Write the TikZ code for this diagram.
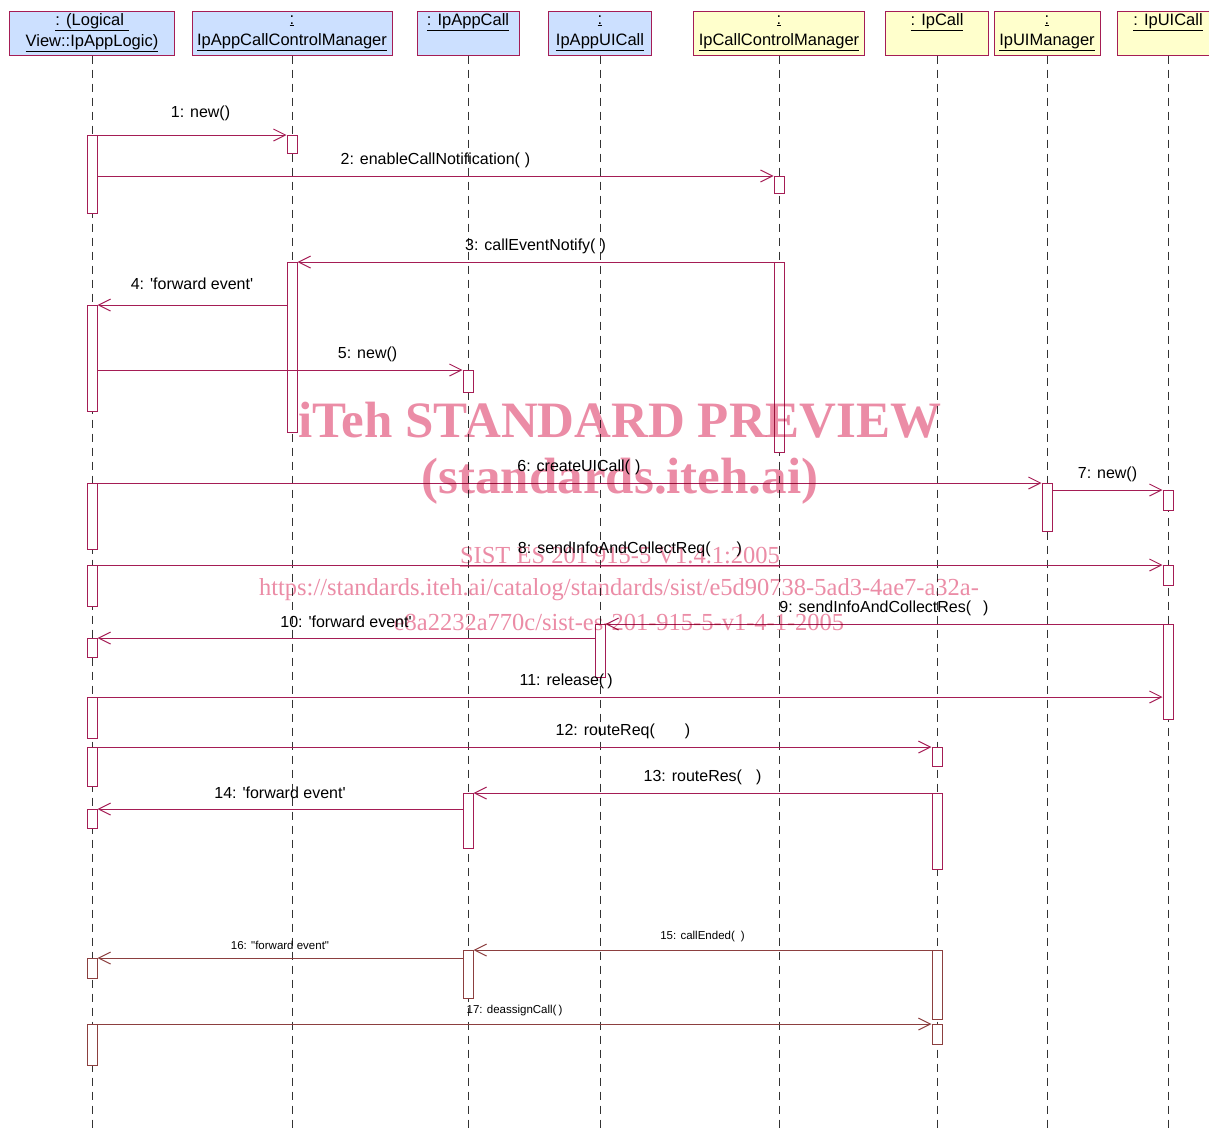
\documentclass[tikz,border=0pt]{standalone}
\usepackage{fontspec}
\setmainfont{Liberation Sans}
\newfontfamily\wmserif{Liberation Serif}
\usetikzlibrary{arrows.meta}
\definecolor{SeqRed}{HTML}{A51D55}
\definecolor{SeqBrown}{HTML}{8C3F3F}
\definecolor{HeadBlue}{HTML}{CCE0FF}
\definecolor{HeadYellow}{HTML}{FFFFCC}
\definecolor{WmPink}{HTML}{EB8CA6}

\begin{document}
\begin{tikzpicture}[x=1pt,y=-1pt,
  head/.style={draw=SeqRed,line width=1pt,minimum height=44pt,inner sep=0pt,align=center,
    font=\fontsize{16.5}{21}\selectfont},
  appbox/.style={head,fill=HeadBlue},
  netbox/.style={head,fill=HeadYellow},
  life/.style={black!80,line width=.9pt,dash pattern=on 8pt off 6pt},
  act/.style={draw=SeqRed,fill=white,line width=1pt,minimum width=10pt,inner sep=0pt,anchor=north},
  actb/.style={act,draw=SeqBrown},
  msg/.style={draw=SeqRed,line width=1pt,-{Straight Barb[length=12pt,width=12pt]}},
  msgb/.style={msg,draw=SeqBrown},
  lbl/.style={font=\fontsize{16}{18}\selectfont,inner sep=0pt,yshift=16pt},
  lbls/.style={font=\fontsize{11.5}{13}\selectfont,inner sep=0pt,yshift=13pt},
  wmbig/.style={text=WmPink,font=\wmserif\bfseries\fontsize{51}{56}\selectfont,inner sep=0pt},
  wmsmall/.style={text=WmPink,font=\wmserif\fontsize{24.5}{26}\selectfont,inner sep=0pt}]
\useasboundingbox (0,0) rectangle (1209,1133);
\coordinate (bot) at (0,1133);

% object boxes
\node[appbox,minimum width=165pt] (hLogic) at (92,33) {\underline{: (Logical }\\\underline{View::IpAppLogic)}};
\node[appbox,minimum width=200pt] (hAppMgr) at (292,33) {\underline{:}\\\underline{IpAppCallControlManager}};
\node[appbox,minimum width=102pt] (hAppCall) at (468,33) {\underline{: IpAppCall}\\\strut};
\node[appbox,minimum width=103pt] (hAppUI) at (600,33) {\underline{:}\\\underline{IpAppUICall}};
\node[netbox,minimum width=171pt] (hCallMgr) at (779,33) {\underline{:}\\\underline{IpCallControlManager}};
\node[netbox,minimum width=103pt] (hCall) at (937,33) {\underline{: IpCall}\\\strut};
\node[netbox,minimum width=106pt] (hUIMgr) at (1047,33) {\underline{:}\\\underline{IpUIManager}};
\node[netbox,minimum width=102pt] (hUICall) at (1168,33) {\underline{: IpUICall}\\\strut};

\foreach \h in {hLogic,hAppMgr,hAppCall,hAppUI,hCallMgr,hCall,hUIMgr,hUICall}
  \draw[life] (\h.south) -- (\h.south |- bot);

% activations
\foreach \n/\x/\t/\l in {p1a/92/135/78,p1b/92/305/106,p1c/92/483/66,p1d/92/565/41,
    p1e/92/638/19,p1f/92/697/41,p1g/92/747/39,p1h/92/809/19,
    p2a/292/135/18,p2b/292/262/170,p3a/468/370/22,p3b/468/793/55,
    p4a/600/624/53,p5a/779/176/17,p5b/779/262/190,
    p6a/937/747/19,p6b/937/793/76,p7a/1047/483/48,
    p8a/1168/490/20,p8b/1168/565/20,p8c/1168/624/95}
  \node[act,minimum height=\l pt] (\n) at (\x,\t) {};
\foreach \n/\x/\t/\l in {p1i/92/958/20,p1j/92/1024/41,p3c/468/950/48,
    p6c/937/950/69,p6d/937/1024/20}
  \node[actb,minimum height=\l pt] (\n) at (\x,\t) {};

% messages
\draw[msg] (p1a.east |- p2a.north) -- node[lbl,pos=.545,yshift=6pt] {1: new()} (p2a.north west);
\draw[msg] (p1a.east |- p5a.north) -- node[lbl] {2: enableCallNotification(\hspace{5pt})} (p5a.north west);
\draw[msg] (p5b.north west) -- node[lbl] {3: callEventNotify(\hspace{5pt})} (p2b.north east);
\draw[msg] (p2b.west |- p1b.north) -- node[lbl,yshift=5pt] {4: \textquotesingle forward event\textquotesingle} (p1b.north east);
\draw[msg] (p1b.east |- p3a.north) -- node[lbl,pos=.74] {5: new()} (p3a.north west);
\draw[msg] (p1c.north east) -- node[lbl,pos=.51] {6: createUICall(\hspace{5pt})} (p7a.north west);
\draw[msg] (p7a.east |- p8a.north) -- node[lbl] {7: new()} (p8a.north west);
\draw[msg] (p1d.north east) -- node[lbl] {8: sendInfoAndCollectReq(\hspace{26pt})} (p8b.north west);
\draw[msg] (p8c.north west) -- node[lbl] {9: sendInfoAndCollectRes(\hspace{12pt})} (p4a.north east);
\draw[msg] (p4a.west |- p1e.north) -- node[lbl] {10: \textquotesingle forward event\textquotesingle} (p1e.north east);
\draw[msg] (p1f.north east) -- node[lbl,pos=.44] {11: release(\hspace{3pt})} (p8c.west |- p1f.north);
\draw[msg] (p1g.north east) -- node[lbl,pos=.63] {12: routeReq(\hspace{30pt})} (p6a.north west);
\draw[msg] (p6b.north west) -- node[lbl] {13: routeRes(\hspace{14pt})} (p3b.north east);
\draw[msg] (p3b.west |- p1h.north) -- node[lbl] {14: \textquotesingle forward event\textquotesingle} (p1h.north east);
\draw[msgb] (p6c.north west) -- node[lbls] {15: callEnded(\hspace{6pt})} (p3c.north east);
\draw[msgb] (p3c.west |- p1i.north) -- node[lbls] {16: \textquotedbl forward event\textquotedbl} (p1i.north east);
\draw[msgb] (p1j.north east) -- node[lbls] {17: deassignCall(\hspace{2pt})} (p6d.north west);

% watermark
\begin{scope}[blend mode=multiply]
\node[wmbig] (wm1) at (620,420) {iTeh STANDARD PREVIEW};
\node[wmbig] (wm2) at (620,481) {(standards.iteh.ai)};
\node[wmsmall] (wm3) at (620,557) {\underline{SIST ES 201 915-5 V1.4.1:2005}};
\node[wmsmall] (wm4) at (619,590) {https://standards.iteh.ai/catalog/standards/sist/e5d90738-5ad3-4ae7-a32a-};
\node[wmsmall] (wm5) at (619,622) {e8a2232a770c/sist-es-201-915-5-v1-4-1-2005};
\end{scope}
\end{tikzpicture}
\end{document}
